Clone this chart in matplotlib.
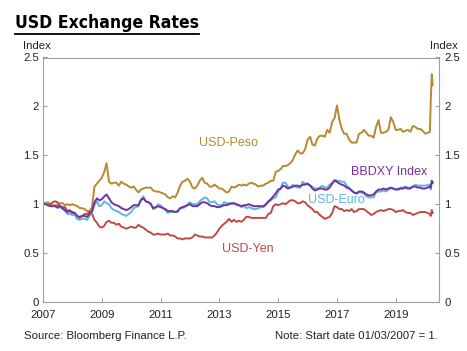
import matplotlib
matplotlib.use("Agg")
import matplotlib.pyplot as plt
from matplotlib.lines import Line2D
from matplotlib import font_manager as fm
import pandas as pd
import numpy as np

# ---- data (index, 01/03/2007 = 1) ----
monthly = pd.date_range("2007-01-01", "2020-01-01", freq="MS")
extra = pd.to_datetime(["2020-02-28", "2020-03-10", "2020-03-23", "2020-04-03"])
dates = monthly.append(extra)

peso = [
    1.00, 1.01, 1.02, 1.00, 0.99, 0.99, 0.99, 1.01, 1.01, 0.99, 1.00, 0.99,
    1.00, 0.99, 0.98, 0.96, 0.96, 0.95, 0.93, 0.93, 0.97, 1.18, 1.21, 1.24,
    1.27, 1.33, 1.42, 1.23, 1.21, 1.22, 1.22, 1.19, 1.23, 1.21, 1.20, 1.18,
    1.17, 1.18, 1.15, 1.12, 1.15, 1.16, 1.17, 1.17, 1.17, 1.14, 1.13, 1.13,
    1.12, 1.11, 1.10, 1.07, 1.06, 1.08, 1.07, 1.12, 1.19, 1.23, 1.24, 1.26,
    1.23, 1.17, 1.16, 1.19, 1.24, 1.27, 1.22, 1.21, 1.18, 1.18, 1.20, 1.18,
    1.16, 1.16, 1.14, 1.12, 1.13, 1.18, 1.17, 1.18, 1.20, 1.19, 1.20, 1.19,
    1.21, 1.22, 1.21, 1.20, 1.18, 1.19, 1.19, 1.21, 1.22, 1.24, 1.24, 1.33,
    1.34, 1.36, 1.39, 1.39, 1.40, 1.42, 1.45, 1.51, 1.55, 1.52, 1.52, 1.56,
    1.66, 1.69, 1.61, 1.60, 1.67, 1.70, 1.70, 1.69, 1.76, 1.73, 1.84, 1.88,
    2.01, 1.86, 1.77, 1.72, 1.72, 1.66, 1.63, 1.63, 1.63, 1.72, 1.73, 1.76,
    1.73, 1.70, 1.70, 1.68, 1.79, 1.86, 1.73, 1.73, 1.74, 1.76, 1.89, 1.84,
    1.76, 1.76, 1.77, 1.74, 1.75, 1.76, 1.74, 1.80, 1.79, 1.77, 1.77, 1.75,
    1.72, 1.74, 2.05, 2.33, 2.22,
]
yen = [
    1.01, 1.01, 0.99, 1.00, 1.02, 1.03, 1.02, 0.98, 0.97, 0.97, 0.93, 0.94,
    0.90, 0.90, 0.85, 0.86, 0.88, 0.90, 0.90, 0.92, 0.90, 0.84, 0.81, 0.77,
    0.76, 0.78, 0.82, 0.83, 0.81, 0.81, 0.79, 0.80, 0.77, 0.76, 0.75, 0.76,
    0.77, 0.76, 0.76, 0.79, 0.77, 0.76, 0.74, 0.72, 0.71, 0.69, 0.69, 0.70,
    0.69, 0.69, 0.69, 0.70, 0.68, 0.68, 0.67, 0.65, 0.65, 0.64, 0.65, 0.65,
    0.65, 0.66, 0.69, 0.68, 0.67, 0.67, 0.66, 0.66, 0.66, 0.66, 0.68, 0.71,
    0.75, 0.78, 0.80, 0.82, 0.85, 0.82, 0.84, 0.82, 0.83, 0.82, 0.84, 0.87,
    0.87, 0.86, 0.86, 0.86, 0.86, 0.86, 0.86, 0.86, 0.90, 0.91, 0.98, 1.00,
    0.99, 1.00, 1.01, 1.00, 1.02, 1.04, 1.04, 1.03, 1.01, 1.01, 1.03, 1.02,
    0.99, 0.97, 0.95, 0.92, 0.92, 0.89, 0.87, 0.85, 0.86, 0.87, 0.91, 0.98,
    0.97, 0.95, 0.95, 0.93, 0.94, 0.93, 0.95, 0.92, 0.93, 0.95, 0.95, 0.95,
    0.93, 0.91, 0.89, 0.90, 0.92, 0.93, 0.94, 0.93, 0.94, 0.95, 0.95, 0.94,
    0.92, 0.93, 0.93, 0.94, 0.92, 0.91, 0.91, 0.89, 0.90, 0.91, 0.92, 0.92,
    0.92, 0.90, 0.88, 0.94, 0.91,
]
euro = [
    1.01, 1.01, 0.99, 0.98, 0.98, 0.98, 0.96, 0.97, 0.95, 0.93, 0.90, 0.90,
    0.89, 0.89, 0.85, 0.84, 0.85, 0.85, 0.84, 0.88, 0.92, 0.99, 1.03, 0.98,
    0.99, 1.03, 1.01, 1.00, 0.96, 0.94, 0.93, 0.92, 0.90, 0.89, 0.88, 0.90,
    0.92, 0.96, 0.97, 0.98, 1.05, 1.08, 1.03, 1.02, 1.01, 0.95, 0.96, 1.00,
    0.99, 0.96, 0.94, 0.91, 0.92, 0.92, 0.92, 0.92, 0.96, 0.96, 0.97, 1.00,
    1.02, 1.00, 1.00, 1.00, 1.03, 1.05, 1.07, 1.06, 1.02, 1.02, 1.03, 1.00,
    0.99, 0.99, 1.02, 1.01, 1.01, 1.00, 1.01, 0.99, 0.99, 0.97, 0.98, 0.96,
    0.97, 0.96, 0.95, 0.95, 0.96, 0.97, 0.97, 0.99, 1.02, 1.04, 1.06, 1.07,
    1.13, 1.16, 1.22, 1.22, 1.18, 1.17, 1.20, 1.18, 1.17, 1.17, 1.23, 1.21,
    1.21, 1.19, 1.18, 1.16, 1.16, 1.17, 1.19, 1.17, 1.17, 1.20, 1.22, 1.25,
    1.24, 1.24, 1.23, 1.23, 1.19, 1.17, 1.14, 1.12, 1.11, 1.12, 1.12, 1.11,
    1.08, 1.07, 1.07, 1.07, 1.12, 1.13, 1.13, 1.14, 1.13, 1.15, 1.16, 1.16,
    1.15, 1.16, 1.17, 1.17, 1.18, 1.17, 1.17, 1.18, 1.20, 1.19, 1.19, 1.19,
    1.19, 1.20, 1.15, 1.23, 1.22,
]
bbdxy = [
    1.00, 1.00, 0.99, 0.98, 0.98, 0.98, 0.97, 0.98, 0.96, 0.94, 0.92, 0.93,
    0.92, 0.91, 0.88, 0.87, 0.88, 0.88, 0.87, 0.90, 0.93, 1.02, 1.06, 1.04,
    1.05, 1.08, 1.10, 1.06, 1.02, 1.00, 0.99, 0.98, 0.96, 0.95, 0.94, 0.95,
    0.97, 0.99, 0.99, 0.99, 1.04, 1.06, 1.03, 1.02, 1.00, 0.96, 0.97, 0.98,
    0.97, 0.96, 0.95, 0.93, 0.93, 0.93, 0.92, 0.93, 0.96, 0.97, 0.98, 0.99,
    1.00, 0.98, 0.98, 0.98, 1.00, 1.02, 1.02, 1.01, 0.99, 0.98, 0.98, 0.97,
    0.97, 0.98, 0.99, 0.99, 1.00, 1.01, 1.01, 1.00, 0.99, 0.98, 0.99, 0.99,
    1.00, 0.99, 0.98, 0.98, 0.98, 0.98, 0.98, 1.00, 1.03, 1.05, 1.08, 1.11,
    1.15, 1.16, 1.19, 1.18, 1.16, 1.17, 1.18, 1.19, 1.19, 1.18, 1.20, 1.20,
    1.21, 1.19, 1.16, 1.14, 1.15, 1.16, 1.16, 1.15, 1.15, 1.17, 1.21, 1.24,
    1.23, 1.21, 1.20, 1.19, 1.17, 1.16, 1.14, 1.12, 1.11, 1.13, 1.13, 1.12,
    1.10, 1.09, 1.09, 1.10, 1.13, 1.15, 1.15, 1.16, 1.15, 1.16, 1.17, 1.16,
    1.15, 1.15, 1.16, 1.16, 1.17, 1.16, 1.16, 1.18, 1.18, 1.17, 1.17, 1.16,
    1.16, 1.18, 1.17, 1.24, 1.22,
]

year_ticks = [2007, 2009, 2011, 2013, 2015, 2017, 2019]
y_ticks = [0, 0.5, 1, 1.5, 2, 2.5]
y_tick_labels = ["0", "0.5", "1", "1.5", "2", "2.5"]

# fractional years
x = np.asarray(dates.year + (dates.dayofyear - 1) / 365.25, dtype=float)

C_PESO = "#B8892F"
C_YEN = "#BE4A47"
C_EURO = "#5CB8DE"
C_BB = "#7630A0"
TXT = "#222222"
SPINE = "#A0A0A0"
FONT = ["Liberation Sans", "DejaVu Sans"]

plt.rcParams["font.family"] = FONT

# pick a condensed bold face for the title if one is installed
title_kw = dict(family=["Liberation Sans", "DejaVu Sans"], fontweight="bold", fontsize=12.2)
try:
    f = fm.findfont(fm.FontProperties(family="DejaVu Sans", stretch="condensed",
                                      weight="bold"), fallback_to_default=False)
    if "Condensed" in f:
        title_kw = dict(family=["DejaVu Sans"], fontstretch="condensed",
                        fontweight="bold", fontsize=12.6)
except Exception:
    pass

fig = plt.figure(figsize=(4.67, 3.51), dpi=100)
ax = fig.add_axes([43 / 467, 1 - 302 / 351, (439 - 43) / 467, (302 - 57.5) / 351])

lw = 1.4
ax.plot(x, peso, color=C_PESO, lw=lw)
ax.plot(x, yen, color=C_YEN, lw=lw)
ax.plot(x, euro, color=C_EURO, lw=lw)
ax.plot(x, bbdxy, color=C_BB, lw=lw)

ax.set_xlim(2007, 2020.47)
ax.set_ylim(0, 2.5)
ax.set_xticks(year_ticks)
ax.set_xticklabels([str(y) for y in year_ticks])
ax.set_yticks(y_ticks)
ax.set_yticklabels(y_tick_labels)
for s in ax.spines.values():
    s.set_color(SPINE)
    s.set_linewidth(0.8)
ax.tick_params(direction="in", length=3, width=0.8, color=SPINE,
               labelsize=8.2, labelcolor=TXT, pad=3)
ax.tick_params(axis="x", pad=5.5)

ax2 = ax.twinx()
ax2.set_ylim(0, 2.5)
ax2.set_yticks(y_ticks)
ax2.set_yticklabels(y_tick_labels)
ax2.tick_params(direction="in", length=3, width=0.8, color=SPINE,
                labelsize=8.2, labelcolor=TXT, pad=4)
for s in ax2.spines.values():
    s.set_visible(False)

# series labels
ax.text(2012.30, 1.63, "USD-Peso", color=C_PESO, fontsize=9, va="center", ha="left")
ax.text(2017.46, 1.33, "BBDXY Index", color=C_BB, fontsize=9, va="center", ha="left")
ax.text(2016.00, 1.04, "USD-Euro", color=C_EURO, fontsize=9, va="center", ha="left")
ax.text(2013.08, 0.54, "USD-Yen", color=C_YEN, fontsize=9, va="center", ha="left")

# axis unit labels
fig.text(23 / 467, 1 - 46 / 351, "Index", fontsize=8.2, color=TXT, ha="left", va="center")
fig.text(458 / 467, 1 - 46 / 351, "Index", fontsize=8.2, color=TXT, ha="right", va="center")

# footnotes
fig.text(24 / 467, 1 - 336 / 351, "Source: Bloomberg Finance L.P.", fontsize=8.2,
         color=TXT, ha="left", va="center")
fig.text(438 / 467, 1 - 336 / 351, "Note: Start date 01/03/2007 = 1.", fontsize=8.2,
         color=TXT, ha="right", va="center")

# title
title = fig.text(15 / 467, 1 - 28 / 351, "USD Exchange Rates", color="black",
                 ha="left", va="baseline", **title_kw)
fig.canvas.draw()
bb = title.get_window_extent()
W, H = fig.canvas.get_width_height()
yline = (bb.y0 - 1.5) / H
fig.add_artist(Line2D([bb.x0 / W, bb.x1 / W], [yline, yline], color="black", lw=1.3))

fig.savefig("out.png", dpi=100)
